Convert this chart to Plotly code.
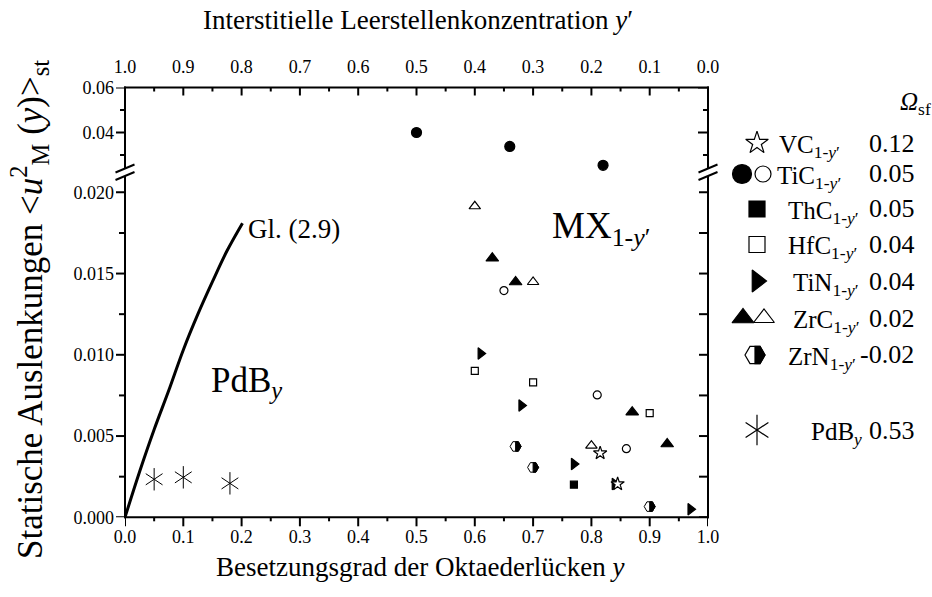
import plotly.graph_objects as go

# ---------------------------------------------------------------------------
# Data: occupancy y of the octahedral sites and static displacement <u^2_M>_st
# ---------------------------------------------------------------------------
vc_y = [0.815, 0.845]
vc_u = [0.00395, 0.00205]

tic_filled_y = [0.50, 0.66, 0.82]          # upper (broken) part of the axis
tic_filled_u = [0.0400, 0.0338, 0.0254]
tic_open_y = [0.65, 0.81, 0.86]
tic_open_u = [0.01395, 0.00753, 0.00422]

thc_y = [0.77]
thc_u = [0.00201]

hfc_y = [0.60, 0.70, 0.90]
hfc_u = [0.00901, 0.00830, 0.00641]

tin_y = [0.61, 0.68, 0.77, 0.84, 0.97]
tin_u = [0.01008, 0.00688, 0.00328, 0.00205, 0.00049]

zrc_filled_y = [0.63, 0.67, 0.87, 0.93]
zrc_filled_u = [0.01594, 0.01448, 0.00647, 0.00451]
zrc_open_y = [0.60, 0.70, 0.80]
zrc_open_u = [0.01914, 0.01448, 0.00441]

zrn_y = [0.67, 0.70, 0.90]
zrn_u = [0.00436, 0.00307, 0.00066]

pdb_y = [0.05, 0.10, 0.18]
pdb_u = [0.00234, 0.00246, 0.00209]

# Gl. (2.9)
curve_y = [0.0, 0.025, 0.05, 0.075, 0.10, 0.125, 0.15, 0.175, 0.2015]
curve_u = [0.0, 0.0028, 0.0054, 0.0078, 0.0103, 0.0125, 0.0145, 0.0164, 0.0181]

# Legend: compound, Omega_sf
legend_names = ["VC", "TiC", "ThC", "HfC", "TiN", "ZrC", "ZrN"]
legend_omega = ["0.12", "0.05", "0.05", "0.04", "0.04", "0.02", "-0.02"]
pdb_omega = "0.53"

# Ticks
x_ticks = [0.0, 0.1, 0.2, 0.3, 0.4, 0.5, 0.6, 0.7, 0.8, 0.9, 1.0]
x_minor = [0.05, 0.15, 0.25, 0.35, 0.45, 0.55, 0.65, 0.75, 0.85, 0.95]
y_low_major = [0.0, 0.005, 0.010, 0.015, 0.020]
y_low_minor = [0.0025, 0.0075, 0.0125, 0.0175]
y_up_major = [0.04, 0.06]
y_up_minor = [0.03, 0.05]

# ---------------------------------------------------------------------------
# Page geometry (pixels)
# ---------------------------------------------------------------------------
W, H = 932, 597
X0, X1 = 125.0, 708.0            # frame left / right
Y_BOT, Y_BRK, Y_TOP = 517.3, 172.0, 87.5
LOW_PER_PX = 0.005 / 81.25       # lower scale
UP_PER_PX = 0.01 / 22.6          # upper scale
LOW_MAX = (Y_BOT - Y_BRK) * LOW_PER_PX
UP_MIN = 0.04 - (Y_BRK - 132.3) * UP_PER_PX
LEG_X0 = 716.0                   # left edge of the key panel
LW = 2

FONT = "Liberation Serif"


def fx(px):
    return px / W


def fy(py):
    return 1 - py / H


fig = go.Figure()

# Gl. (2.9)
fig.add_trace(go.Scatter(x=curve_y, y=curve_u, mode="lines",
                         line=dict(color="black", width=3, shape="spline"),
                         xaxis="x", yaxis="y"))


def pts(x, y, symbol, size, filled=True, xaxis="x", yaxis="y", lw=1.2):
    fig.add_trace(go.Scatter(
        x=x, y=y, mode="markers", xaxis=xaxis, yaxis=yaxis,
        marker=dict(symbol=symbol, size=size,
                    color="black" if filled else "white",
                    line=dict(color="black", width=lw))))


pts(tic_filled_y, tic_filled_u, "circle", 10, yaxis="y2")
# same points on the y' scale (keeps the top axis alive, drawn transparent)
fig.add_trace(go.Scatter(x=[1 - v for v in tic_filled_y], y=tic_filled_u,
                         mode="markers", xaxis="x2", yaxis="y2", hoverinfo="skip",
                         marker=dict(size=10, color="rgba(0,0,0,0)")))
pts(tic_open_y, tic_open_u, "circle", 8, filled=False)
pts(thc_y, thc_u, "square", 7)
pts(hfc_y, hfc_u, "square", 7, filled=False)
pts(tin_y, tin_u, "triangle-right", 10)
pts(zrc_filled_y, zrc_filled_u, "triangle-up", 11)
pts(zrc_open_y, zrc_open_u, "triangle-up", 10, filled=False)
pts(vc_y, vc_u, "star", 10, filled=False)
for sym in ("y-up-open", "y-down-open"):
    fig.add_trace(go.Scatter(x=pdb_y, y=pdb_u, mode="markers", xaxis="x", yaxis="y",
                             marker=dict(symbol=sym, size=14, color="black",
                                         line=dict(color="black", width=1))))
# ZrN: half-filled hexagons drawn as pixel-sized shapes anchored at the data
fig.add_trace(go.Scatter(x=zrn_y, y=zrn_u, mode="markers", xaxis="x", yaxis="y",
                         hoverinfo="skip", marker=dict(size=1, color="rgba(0,0,0,0)")))


def hexagon(xref, yref, xa, ya, r, lw=1.0):
    h = r * 0.866
    outline = (f"M {r},0 L {r/2},{h} L {-r/2},{h} L {-r},0 "
               f"L {-r/2},{-h} L {r/2},{-h} Z")
    half = f"M 0,{h} L {r/2},{h} L {r},0 L {r/2},{-h} L 0,{-h} Z"
    common = dict(type="path", xref=xref, yref=yref, xsizemode="pixel",
                  ysizemode="pixel", xanchor=xa, yanchor=ya, layer="above")
    fig.add_shape(path=outline, fillcolor="white",
                  line=dict(color="black", width=lw), **common)
    fig.add_shape(path=half, fillcolor="black",
                  line=dict(color="black", width=lw), **common)


for xv, yv in zip(zrn_y, zrn_u):
    hexagon("x", "y", xv, yv, 5.5)

# ---------------------------------------------------------------------------
# Frame and tick marks (tick positions mapped through the axes' scales)
# ---------------------------------------------------------------------------
def seg(x0, y0, x1, y1, xref="paper", yref="paper", width=LW):
    fig.add_shape(type="line", xref=xref, yref=yref, x0=x0, y0=y0, x1=x1, y1=y1,
                  layer="above", line=dict(color="black", width=width))


seg(fx(X0 - 1), fy(Y_BOT), fx(X1 + 1), fy(Y_BOT))
seg(fx(X0 - 1), fy(Y_TOP), fx(X1 + 1), fy(Y_TOP))
seg(fx(X0), fy(Y_BOT + 1), fx(X0), fy(Y_TOP - 1))
seg(fx(X1), fy(Y_BOT + 1), fx(X1), fy(Y_TOP - 1))

for v in x_ticks:       # bottom: outward, top: inward
    seg(v, fy(Y_BOT), v, fy(Y_BOT + 9), xref="x")
    seg(v, fy(Y_TOP), v, fy(Y_TOP + 8), xref="x")
for v in x_minor:
    seg(v, fy(Y_BOT), v, fy(Y_BOT + 4), xref="x")
    seg(v, fy(Y_TOP), v, fy(Y_TOP + 4), xref="x")
for v in y_low_major:   # left: outward, right: inward
    seg(fx(X0 - 9), v, fx(X0), v, yref="y")
    seg(fx(X1 - 9), v, fx(X1), v, yref="y")
for v in y_low_minor:
    seg(fx(X0 - 6), v, fx(X0), v, yref="y")
    seg(fx(X1 - 9), v, fx(X1), v, yref="y")
for v in y_up_major:
    seg(fx(X0 - 9), v, fx(X0), v, yref="y2")
    seg(fx(X1 - 10), v, fx(X1), v, yref="y2")
for v in y_up_minor:
    seg(fx(X0 - 5), v, fx(X0), v, yref="y2")
    seg(fx(X1 - 5), v, fx(X1), v, yref="y2")

# Axis breaks
for ax_x in (X0, X1):
    xa, xb = ax_x - 9.5, ax_x + 9.5
    up = [(xa, 172.5), (xb, 164.5)]
    lo = [(xa, 180.0), (xb, 172.0)]
    fig.add_shape(
        type="path", xref="paper", yref="paper", layer="above",
        path=(f"M {fx(up[0][0])},{fy(up[0][1])} L {fx(up[1][0])},{fy(up[1][1])} "
              f"L {fx(lo[1][0])},{fy(lo[1][1])} L {fx(lo[0][0])},{fy(lo[0][1])} Z"),
        fillcolor="white", line=dict(width=0))
    for s in (up, lo):
        seg(fx(s[0][0]), fy(s[0][1]), fx(s[1][0]), fy(s[1][1]))

# ---------------------------------------------------------------------------
# Key panel on its own hidden axis pair (pixel units), right of the frame
# ---------------------------------------------------------------------------
rows = [143.0, 174.0, 209.0, 244.5, 281.0, 318.0, 355.0]
row_pdb = 430.0
X_SINGLE = 757.0
PAIR_C = (742.0, 763.0)
PAIR_T = (743.0, 764.0)
name_x = [777, 775, 786, 786, 791, 791, 786]
value_x = [867, 867, 867, 867, 867, 867, 858]


def key(x, y, symbol, size, filled=True, lw=1.2):
    fig.add_trace(go.Scatter(
        x=[x], y=[y], mode="markers", xaxis="x3", yaxis="y5", hoverinfo="skip",
        marker=dict(symbol=symbol, size=size,
                    color="black" if filled else "white",
                    line=dict(color="black", width=lw))))


key(X_SINGLE, rows[0], "star", 17, filled=False)
key(PAIR_C[0], rows[1], "circle", 19)
key(PAIR_C[1], rows[1], "circle", 16, filled=False)
key(X_SINGLE, rows[2], "square", 16)
key(X_SINGLE, rows[3], "square", 16, filled=False)
key(X_SINGLE, rows[4], "triangle-right", 19)
key(PAIR_T[0], rows[5], "triangle-up", 19)
key(PAIR_T[1], rows[5], "triangle-up", 18, filled=False)
hexagon("x3", "y5", X_SINGLE - 2, rows[6], 10, lw=1.2)
for sym in ("y-up-open", "y-down-open"):
    fig.add_trace(go.Scatter(x=[X_SINGLE], y=[row_pdb], mode="markers",
                             xaxis="x3", yaxis="y5", hoverinfo="skip",
                             marker=dict(symbol=sym, size=19, color="black",
                                         line=dict(color="black", width=1.2))))

annotations = []
NAME_FS, VAL_FS = 25, 26
for name, om, ry, nx, vx in zip(legend_names, legend_omega, rows, name_x, value_x):
    annotations.append(dict(
        x=fx(nx), y=fy(ry + 3), xref="paper", yref="paper",
        xanchor="left", yanchor="middle", showarrow=False,
        text=f"{name}<sub>1-<i>y</i>′</sub>",
        font=dict(family=FONT, size=NAME_FS, color="black")))
    annotations.append(dict(
        x=fx(vx), y=fy(ry), xref="paper", yref="paper",
        xanchor="left", yanchor="middle", showarrow=False, text=om,
        font=dict(family=FONT, size=VAL_FS, color="black")))
annotations.append(dict(
    x=fx(809), y=fy(row_pdb + 3), xref="paper", yref="paper", xanchor="left",
    yanchor="middle", showarrow=False, text="PdB<sub><i>y</i></sub>",
    font=dict(family=FONT, size=NAME_FS, color="black")))
annotations.append(dict(
    x=fx(867), y=fy(row_pdb), xref="paper", yref="paper", xanchor="left",
    yanchor="middle", showarrow=False, text=pdb_omega,
    font=dict(family=FONT, size=VAL_FS, color="black")))
annotations.append(dict(
    x=fx(898), y=fy(104), xref="paper", yref="paper", xanchor="left",
    yanchor="middle", showarrow=False, text="<i>Ω</i><sub>sf</sub>",
    font=dict(family=FONT, size=NAME_FS, color="black")))

# Labels inside the frame
annotations += [
    dict(x=fx(246), y=fy(229), xref="paper", yref="paper", xanchor="left",
         yanchor="middle", showarrow=False, text="Gl. (2.9)",
         font=dict(family=FONT, size=27, color="black")),
    dict(x=fx(209), y=fy(382), xref="paper", yref="paper", xanchor="left",
         yanchor="middle", showarrow=False, text="PdB<sub><i>y</i></sub>",
         font=dict(family=FONT, size=35, color="black")),
    dict(x=fx(550), y=fy(228), xref="paper", yref="paper", xanchor="left",
         yanchor="middle", showarrow=False, text="MX<sub>1-<i>y</i>′</sub>",
         font=dict(family=FONT, size=37, color="black")),
]

# Axis titles
annotations += [
    dict(x=fx(420), y=fy(567), xref="paper", yref="paper", xanchor="center",
         yanchor="middle", showarrow=False,
         text="Besetzungsgrad der Oktaederlücken <i>y</i>",
         font=dict(family=FONT, size=27, color="black")),
    dict(x=fx(418), y=fy(20), xref="paper", yref="paper", xanchor="center",
         yanchor="middle", showarrow=False,
         text="Interstitielle Leerstellenkonzentration <i>y</i>′",
         font=dict(family=FONT, size=27, color="black")),
    dict(x=fx(29), y=fy(310), xref="paper", yref="paper", xanchor="center",
         yanchor="middle", showarrow=False, textangle=-90,
         text=("Statische Auslenkungen &lt;<i>u</i><sup>2</sup><sub>M</sub> "
               "(<i>y</i>)&gt;<sub>st</sub>"),
         font=dict(family=FONT, size=35, color="black")),
]

tick_font = dict(family=FONT, size=18, color="black")
label_axis = dict(showgrid=False, zeroline=False, showline=False, ticks="",
                  tickfont=tick_font)

fig.update_layout(
    template="none",
    width=W, height=H, autosize=False,
    margin=dict(l=0, r=0, t=0, b=0, pad=0),
    paper_bgcolor="white", plot_bgcolor="rgba(0,0,0,0)",
    showlegend=False, annotations=annotations,
    xaxis=dict(domain=[fx(X0), fx(X1)], range=[0, 1], anchor="y",
               tickvals=x_ticks, ticktext=[f"{v:.1f}" for v in x_ticks],
               ticklabelstandoff=7, **label_axis),
    xaxis2=dict(overlaying="x", side="top", anchor="y2", range=[1, 0],
                tickvals=x_ticks, ticktext=[f"{v:.1f}" for v in x_ticks],
                ticklabelstandoff=10, **label_axis),
    xaxis3=dict(domain=[fx(LEG_X0), 1], range=[LEG_X0, W], anchor="y5",
                visible=False),
    yaxis=dict(domain=[fy(Y_BOT), fy(Y_BRK)], range=[0, LOW_MAX], anchor="x",
               tickvals=y_low_major, ticktext=[f"{v:.3f}" for v in y_low_major],
               ticklabelstandoff=10, **label_axis),
    yaxis2=dict(domain=[fy(Y_BRK), fy(Y_TOP)], range=[UP_MIN, 0.06], anchor="x",
                tickvals=y_up_major, ticktext=[f"{v:.2f}" for v in y_up_major],
                ticklabelstandoff=10, **label_axis),
    yaxis5=dict(domain=[0, 1], range=[H, 0], anchor="x3", visible=False),
)

fig.write_html("out.html")
